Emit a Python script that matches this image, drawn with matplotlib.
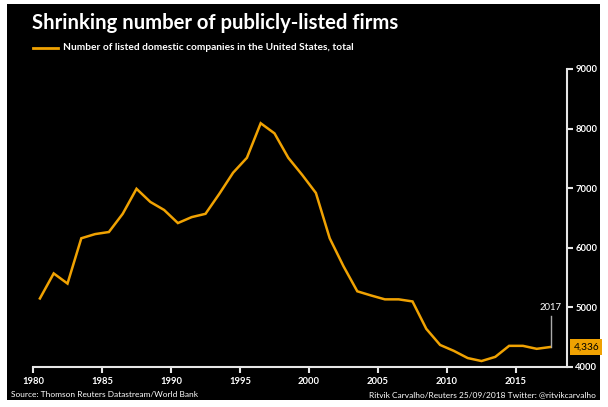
import matplotlib.pyplot as plt
from matplotlib.patches import Rectangle

years = list(range(1980, 2018))
companies = [5150, 5570, 5400, 6160, 6230, 6265, 6570, 6990, 6770, 6635,
             6415, 6515, 6570, 6905, 7260, 7510, 8090, 7920, 7510, 7225,
             6920, 6160, 5690, 5270, 5200, 5135, 5135, 5100, 4640, 4370,
             4270, 4150, 4100, 4170, 4355, 4355, 4305, 4336]
yticks = [4000, 5000, 6000, 7000, 8000, 9000]
xticks = [1980, 1985, 1990, 1995, 2000, 2005, 2010, 2015]

W, H = 608, 407
orange = '#F0A202'
plt.rcParams['font.family'] = ['Lato', 'DejaVu Sans']

fig = plt.figure(figsize=(W / 100, H / 100), dpi=100, facecolor='white')
fig.patches.append(Rectangle((7 / W, 1 - 400 / H), 593 / W, 396 / H,
                             transform=fig.transFigure, facecolor='black',
                             edgecolor='none', zorder=-5))

# axes box in pixel coords
x0, x1, y_top, y_bot = 33, 567, 69, 367
ax = fig.add_axes([x0 / W, 1 - y_bot / H, (x1 - x0) / W, (y_bot - y_top) / H])
ax.set_facecolor('none')
ax.set_zorder(2)

xs = [y + 0.5 for y in years]
ax.plot(xs, companies, color=orange, lw=1.8, solid_joinstyle='miter')

ax.set_xlim(1980, 1980 + (x1 - x0) / 13.8)
ax.set_ylim(4000, 9000)

for s in ['top', 'left']:
    ax.spines[s].set_visible(False)
for s in ['bottom', 'right']:
    ax.spines[s].set_color('#e6e6e6')
    ax.spines[s].set_linewidth(1.5)
ax.yaxis.tick_right()
ax.set_yticks(yticks)
ax.set_yticklabels([str(v) for v in yticks], fontweight='bold')
ax.set_xticks(xticks)
ax.set_xticklabels([str(v) for v in xticks], fontweight='bold')
ax.tick_params(colors='#e6e6e6', labelcolor='white', labelsize=6.8,
               length=4, width=1.5)
ax.tick_params(axis='y', pad=2)
ax.tick_params(axis='x', pad=3)

# 2017 annotation
last_x = xs[-1]
ax.plot([last_x, last_x], [companies[-1], 4850], color='#aaaaaa', lw=1)
ax.text(last_x, 4930, '2017', color='white', fontsize=6.8, ha='center',
        va='bottom')
ax.text(1.012, (companies[-1] - 4000) / 5000, '{:,}'.format(companies[-1]),
        transform=ax.transAxes, fontsize=7.3, color='black', ha='left',
        va='center',
        bbox=dict(boxstyle='square,pad=0.3', facecolor=orange,
                  edgecolor='none'))

# title and legend
fig.text(32 / W, 1 - 23 / H, 'Shrinking number of publicly-listed firms',
         color='white', fontsize=14.6, fontweight='bold', va='center')
fig.lines.append(plt.Line2D([33 / W, 58 / W], [1 - 48 / H, 1 - 48 / H],
                            transform=fig.transFigure, color=orange, lw=2))
fig.text(63 / W, 1 - 48 / H,
         'Number of listed domestic companies in the United States, total',
         color='white', fontsize=7.3, fontweight='bold', va='center')

# footer
fig.text(11 / W, 1 - 394.5 / H, 'Source: Thomson Reuters Datastream/World Bank',
         color='white', fontsize=6, va='center')
fig.text(596 / W, 1 - 394.5 / H,
         'Ritvik Carvalho/Reuters 25/09/2018 Twitter: @ritvikcarvalho',
         color='white', fontsize=6, va='center', ha='right')

fig.savefig('out.png', dpi=100, facecolor='white')
